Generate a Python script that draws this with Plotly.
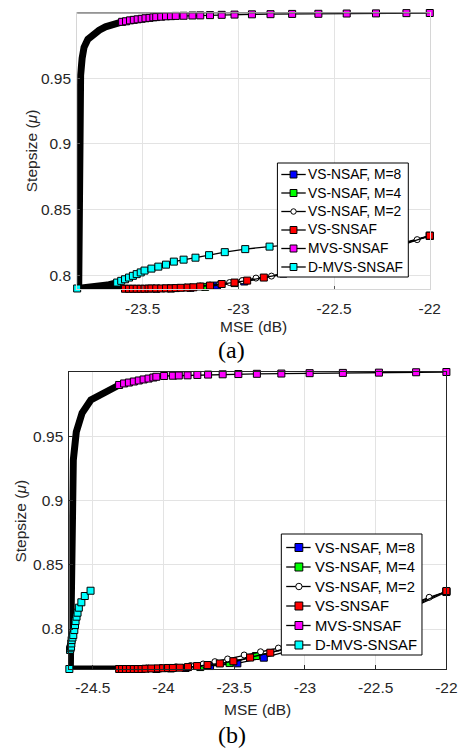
import plotly.graph_objects as go

# ---------------- shared series info ----------------
names = ["VS-NSAF, M=8", "VS-NSAF, M=4", "VS-NSAF, M=2", "VS-SNSAF", "MVS-SNSAF", "D-MVS-SNSAF"]
colors = ["#0000ff", "#00ff00", "#ffffff", "#ff0000", "#ff00ff", "#00ffff"]
symbols = ["square", "square", "circle", "square", "square", "square"]

# ---------------- panel (a) ----------------
a_xtick = [-23.5, -23, -22.5, -22]
a_xtick_text = ["-23.5", "-23", "-22.5", "-22"]
a_ytick = [0.8, 0.85, 0.9, 0.95]
a_ytick_text = ["0.8", "0.85", "0.9", "0.95"]

# dense (overplotted) segments
a_low_trail_x = [-23.842, -23.720, -23.592]
a_low_trail_y = [0.7902, 0.7901, 0.7900]
a_mvs_trail_x = [-23.834, -23.832, -23.829, -23.827, -23.824, -23.816, -23.806, -23.786, -23.760, -23.727, -23.694, -23.658, -23.607]
a_mvs_trail_y = [0.7902, 0.8576, 0.9000, 0.9333, 0.9523, 0.9652, 0.9735, 0.9795, 0.9833, 0.9864, 0.9890, 0.9909, 0.9928]
a_dmvs_trail_x = [-23.842, -23.760, -23.684, -23.633]
a_dmvs_trail_y = [0.7902, 0.7909, 0.7928, 0.7947]

a_m8_x = [-23.429, -23.250, -23.112, -22.969, -22.765, -22.459, -22.000]
a_m8_y = [0.7900, 0.7907, 0.7924, 0.7955, 0.8015, 0.8121, 0.8303]
a_m4_x = [-23.352, -23.173, -23.020, -22.714, -22.306, -22.000]
a_m4_y = [0.7902, 0.7914, 0.7943, 0.8023, 0.8174, 0.8301]
a_m2_x = [-23.480, -23.378, -23.276, -23.199, -23.148, -23.097, -23.046, -22.980, -22.908, -22.827, -22.612, -22.357, -22.066, -22.000]
a_m2_y = [0.7902, 0.7905, 0.7913, 0.7921, 0.7928, 0.7936, 0.7947, 0.7962, 0.7981, 0.7996, 0.8061, 0.8152, 0.8273, 0.8299]
a_vs_x = [-23.592, -23.571, -23.551, -23.531, -23.510, -23.490, -23.469, -23.454, -23.429, -23.403, -23.378, -23.352, -23.327,
          -23.301, -23.265, -23.235, -23.199, -23.148, -23.087, -23.020, -22.954, -22.867, -22.714, -22.510, -22.306, -22.153, -22.000]
a_vs_y = [0.7900, 0.7900, 0.7900, 0.7900, 0.7900, 0.7900, 0.7901, 0.7902, 0.7902, 0.7902, 0.7903, 0.7903, 0.7905,
          0.7907, 0.7909, 0.7911, 0.7917, 0.7924, 0.7936, 0.7947, 0.7962, 0.7985, 0.8027, 0.8091, 0.8163, 0.8227, 0.8303]
a_mvs_x = [-23.607, -23.587, -23.566, -23.546, -23.526, -23.505, -23.485, -23.464, -23.444, -23.429, -23.403, -23.378, -23.352, -23.327,
           -23.286, -23.240, -23.199, -23.148, -23.087, -23.020, -22.929, -22.832, -22.719, -22.582, -22.434, -22.281, -22.122, -22.000]
a_mvs_y = [0.9928, 0.9932, 0.9939, 0.9943, 0.9947, 0.9951, 0.9955, 0.9958, 0.9962, 0.9964, 0.9967, 0.9970, 0.9971, 0.9973,
           0.9974, 0.9976, 0.9977, 0.9979, 0.9981, 0.9983, 0.9985, 0.9986, 0.9988, 0.9989, 0.9991, 0.9992, 0.9994, 0.9995]
a_dmvs_x = [-23.842, -23.633, -23.612, -23.592, -23.571, -23.551, -23.531, -23.510, -23.490, -23.454, -23.418, -23.378, -23.337,
            -23.286, -23.224, -23.153, -23.071, -22.964, -22.837, -22.663, -22.459]
a_dmvs_y = [0.7902, 0.7947, 0.7960, 0.7972, 0.7985, 0.7998, 0.8011, 0.8024, 0.8038, 0.8053, 0.8068, 0.8083, 0.8106,
            0.8121, 0.8136, 0.8155, 0.8178, 0.8201, 0.8220, 0.8242, 0.8269]

# ---------------- panel (b) ----------------
b_xtick = [-24.5, -24, -23.5, -23, -22.5, -22]
b_xtick_text = ["-24.5", "-24", "-23.5", "-23", "-22.5", "-22"]
b_ytick = [0.8, 0.85, 0.9, 0.95]
b_ytick_text = ["0.8", "0.85", "0.9", "0.95"]

b_low_trail_x = [-24.666, -24.490, -24.314]
b_low_trail_y = [0.7689, 0.7689, 0.7689]
b_mvs_trail_x = [-24.659, -24.655, -24.652, -24.645, -24.638, -24.617, -24.576, -24.514, -24.420, -24.344, -24.314]
b_mvs_trail_y = [0.7689, 0.8226, 0.8498, 0.9004, 0.9315, 0.9533, 0.9681, 0.9782, 0.9844, 0.9883, 0.9899]
b_dmvs_trail_x = [-24.666, -24.662, -24.659]
b_dmvs_trail_y = [0.7689, 0.7759, 0.7821]

b_m8_x = [-24.051, -23.844, -23.671, -23.478, -23.291, -22.877, -22.463, -22.000]
b_m8_y = [0.7689, 0.7697, 0.7712, 0.7733, 0.7777, 0.7899, 0.8055, 0.8288]
b_m4_x = [-23.948, -23.740, -23.533, -23.347, -23.084, -22.670, -22.000]
b_m4_y = [0.7693, 0.7704, 0.7735, 0.7790, 0.7860, 0.8008, 0.8292]
b_m2_x = [-24.120, -24.017, -23.913, -23.809, -23.720, -23.637, -23.547, -23.430, -23.314, -23.188, -22.877, -22.532, -22.122, -22.000]
b_m2_y = [0.7697, 0.7700, 0.7706, 0.7716, 0.7728, 0.7746, 0.7767, 0.7798, 0.7823, 0.7852, 0.7946, 0.8070, 0.8247, 0.8292]
b_vs_x = [-24.314, -24.293, -24.265, -24.238, -24.210, -24.182, -24.155, -24.127, -24.086, -24.039, -24.003, -23.968, -23.934,
          -23.885, -23.827, -23.763, -23.689, -23.602, -23.506, -23.388, -23.245, -22.946, -22.601, -22.256, -22.000]
b_vs_y = [0.7689, 0.7689, 0.7689, 0.7689, 0.7689, 0.7689, 0.7689, 0.7691, 0.7693, 0.7694, 0.7695, 0.7697, 0.7697,
          0.7699, 0.7704, 0.7712, 0.7720, 0.7732, 0.7749, 0.7778, 0.7816, 0.7907, 0.8027, 0.8167, 0.8296]
b_mvs_x = [-24.314, -24.279, -24.245, -24.210, -24.175, -24.141, -24.106, -24.072, -24.051, -23.996, -23.934, -23.892, -23.830,
           -23.761, -23.685, -23.582, -23.471, -23.340, -23.167, -22.967, -22.732, -22.477, -22.214, -22.000]
b_mvs_y = [0.9899, 0.9911, 0.9918, 0.9926, 0.9934, 0.9942, 0.9949, 0.9957, 0.9963, 0.9969, 0.9971, 0.9973, 0.9974,
           0.9977, 0.9980, 0.9982, 0.9984, 0.9986, 0.9988, 0.9991, 0.9993, 0.9995, 0.9998, 1.0000]
b_dmvs_x = [-24.666, -24.661, -24.658, -24.654, -24.652, -24.650, -24.644, -24.638, -24.631, -24.626, -24.622, -24.615,
            -24.608, -24.599, -24.581, -24.557, -24.516]
b_dmvs_y = [0.7689, 0.7837, 0.7850, 0.7862, 0.7888, 0.7914, 0.7934, 0.7953, 0.7992, 0.8031, 0.8062, 0.8096,
            0.8127, 0.8166, 0.8208, 0.8257, 0.8298]

FONT = "Arial, Liberation Sans, sans-serif"
TXT = "#262626"
W, H = 474, 750

fig = go.Figure()


def add_trail(x, y, xa, ya):
    fig.add_trace(go.Scatter(x=x, y=y, mode="lines", xaxis=xa, yaxis=ya,
                             line=dict(color="black", width=7), showlegend=False,
                             hoverinfo="skip", cliponaxis=False))


def add_series(i, x, y, xa, ya):
    size = 6 if symbols[i] == "circle" else 7
    fig.add_trace(go.Scatter(x=x, y=y, mode="lines+markers", name=names[i], xaxis=xa, yaxis=ya,
                             showlegend=False, cliponaxis=False,
                             line=dict(color="black", width=1.3),
                             marker=dict(symbol=symbols[i], size=size, color=colors[i],
                                         line=dict(color="black", width=1))))


# panel (a)
add_trail(a_low_trail_x, a_low_trail_y, "x", "y")
add_trail(a_mvs_trail_x, a_mvs_trail_y, "x", "y")
add_trail(a_dmvs_trail_x, a_dmvs_trail_y, "x", "y")
a_series = [(a_m8_x, a_m8_y), (a_m4_x, a_m4_y), (a_m2_x, a_m2_y), (a_vs_x, a_vs_y), (a_mvs_x, a_mvs_y), (a_dmvs_x, a_dmvs_y)]
for i, (sx, sy) in enumerate(a_series):
    add_series(i, sx, sy, "x", "y")

# panel (b)
add_trail(b_low_trail_x, b_low_trail_y, "x2", "y2")
add_trail(b_mvs_trail_x, b_mvs_trail_y, "x2", "y2")
add_trail(b_dmvs_trail_x, b_dmvs_trail_y, "x2", "y2")
b_series = [(b_m8_x, b_m8_y), (b_m4_x, b_m4_y), (b_m2_x, b_m2_y), (b_vs_x, b_vs_y), (b_mvs_x, b_mvs_y), (b_dmvs_x, b_dmvs_y)]
for i, (sx, sy) in enumerate(b_series):
    add_series(i, sx, sy, "x2", "y2")

tickfont = dict(family=FONT, size=15.5, color=TXT)

axis_a = dict(showgrid=True, gridcolor="#e3e3e3", gridwidth=1, zeroline=False,
              showline=True, linecolor="#d6d6d6", linewidth=1, mirror=True,
              ticks="inside", ticklen=3, tickcolor="#555555", tickfont=tickfont)
axis_b = dict(showgrid=True, gridcolor="#e3e3e3", gridwidth=1, zeroline=False,
              showline=True, linecolor="#262626", linewidth=1, mirror=True,
              ticks="inside", ticklen=4, tickcolor="#262626", tickfont=tickfont)

fig.update_layout(
    width=W, height=H, autosize=False,
    margin=dict(l=0, r=0, t=0, b=0),
    paper_bgcolor="white", plot_bgcolor="white",
    showlegend=False,
    xaxis=dict(axis_a, domain=[79 / W, 440 / W], range=[-23.842, -22.0],
               tickvals=a_xtick, ticktext=a_xtick_text, anchor="y", ticklabelstandoff=5),
    yaxis=dict(axis_a, domain=[1 - 289 / H, 1 - 13 / H], range=[0.7898, 0.9995],
               tickvals=a_ytick, ticktext=a_ytick_text, anchor="x", ticklabelstandoff=2),
    xaxis2=dict(axis_b, domain=[71 / W, 457 / W], range=[-24.666, -22.0],
                tickvals=b_xtick, ticktext=b_xtick_text, anchor="y2", ticklabelstandoff=4),
    yaxis2=dict(axis_b, domain=[1 - 669 / H, 1 - 372 / H], range=[0.7689, 1.0],
                tickvals=b_ytick, ticktext=b_ytick_text, anchor="x2", ticklabelstandoff=2),
)

# dark top border of panel (a)
fig.add_shape(type="line", xref="x domain", yref="y domain", x0=0, x1=1, y0=1, y1=1,
              line=dict(color="#555555", width=1))


# ---------------- legends (drawn as layout decorations) ----------------
def px(x):
    return x / W


def py(y):
    return 1 - y / H


def draw_legend(box, row0, step, line_dx, mark_dx, text_dx, msize, fsize):
    x0, y0, x1, y1 = box
    fig.add_shape(type="rect", xref="paper", yref="paper", x0=px(x0), x1=px(x1), y0=py(y0), y1=py(y1),
                  fillcolor="white", line=dict(color="black", width=1))
    for i, nm in enumerate(names):
        yc = row0 + i * step
        fig.add_shape(type="line", xref="paper", yref="paper",
                      x0=px(x0 + line_dx[0]), x1=px(x0 + line_dx[1]), y0=py(yc), y1=py(yc),
                      line=dict(color="black", width=1.3))
        s = msize if symbols[i] == "square" else msize - 1.5
        h = s / 2
        xm = x0 + mark_dx
        fig.add_shape(type="rect" if symbols[i] == "square" else "circle", xref="paper", yref="paper",
                      x0=px(xm - h), x1=px(xm + h), y0=py(yc + h), y1=py(yc - h),
                      fillcolor=colors[i], line=dict(color="black", width=1))
        fig.add_annotation(text=nm, x=px(x0 + text_dx), y=py(yc), xref="paper", yref="paper",
                           showarrow=False, xanchor="left", yanchor="middle",
                           font=dict(family=FONT, size=fsize, color="black"))


draw_legend((284, 163, 418, 277), 174.5, 18.5, (4, 29), 16.5, 29, 7, 13.8)
draw_legend((288, 534, 432, 655), 547.5, 19.5, (5, 30), 18, 32, 8, 14.8)

ann = [
    dict(text="MSE (dB)", x=260 / W, y=1 - 326 / H, size=15.5, font=FONT, angle=0),
    dict(text="Stepsize (<i>μ</i>)", x=32 / W, y=1 - 151 / H, size=15.5, font=FONT, angle=-90),
    dict(text="(a)", x=237 / W, y=1 - 350 / H, size=24, font="Liberation Serif, Times New Roman, serif", angle=0),
    dict(text="MSE (dB)", x=264 / W, y=1 - 709 / H, size=15.5, font=FONT, angle=0),
    dict(text="Stepsize (<i>μ</i>)", x=20 / W, y=1 - 521 / H, size=15.5, font=FONT, angle=-90),
    dict(text="(b)", x=238 / W, y=1 - 735 / H, size=24, font="Liberation Serif, Times New Roman, serif", angle=0),
]
for a in ann:
    fig.add_annotation(text=a["text"], x=a["x"], y=a["y"], xref="paper", yref="paper",
                       showarrow=False, xanchor="center", yanchor="middle", textangle=a["angle"],
                       font=dict(family=a["font"], size=a["size"], color=TXT if a["size"] < 20 else "black"))

fig.write_html("out.html")
